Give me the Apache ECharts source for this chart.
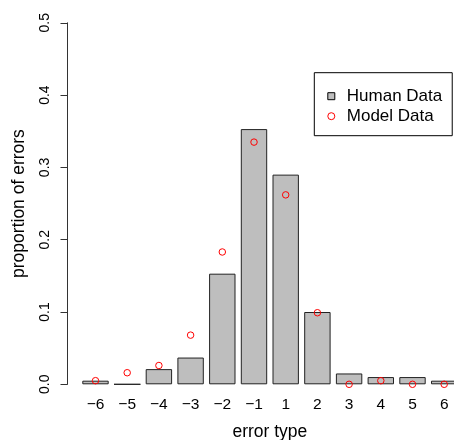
<!DOCTYPE html>
<html>
<head>
<meta charset="utf-8">
<script src="https://cdn.jsdelivr.net/npm/echarts@6/dist/echarts.min.js"></script>
<style>
html,body{margin:0;padding:0;background:#fff;}
#chart{width:454px;height:440px;}
</style>
</head>
<body>
<div id="chart"></div>
<script>
var categories = ['\u22126','\u22125','\u22124','\u22123','\u22122','\u22121','1','2','3','4','5','6'];
var humanData = [0.005, 0.0, 0.021, 0.037, 0.153, 0.353, 0.290, 0.100, 0.015, 0.010, 0.010, 0.005];
var modelData = [0.005, 0.016, 0.026, 0.068, 0.183, 0.335, 0.262, 0.099, 0.000, 0.005, 0.000, 0.000];
var yTicks = [0, 0.1, 0.2, 0.3, 0.4, 0.5];

var FONT = '"Liberation Sans", Arial, Helvetica, sans-serif';
var chart = echarts.init(document.getElementById('chart'), null, {renderer: 'canvas'});
chart.setOption({
  animation: false,
  backgroundColor: '#ffffff',
  textStyle: {fontFamily: FONT, color: '#000'},
  grid: {left: 79.65, top: 22.8, right: -6.05, bottom: 55.7, containLabel: false, outerBoundsMode: 'none'},
  legend: {
    orient: 'vertical',
    left: 314.3,
    top: 72.7,
    padding: [15, 10, 11, 13],
    itemGap: 3,
    itemWidth: 7,
    itemHeight: 7,
    borderColor: '#000',
    borderWidth: 1,
    borderRadius: 0,
    backgroundColor: '#fff',
    textStyle: {fontFamily: FONT, fontSize: 17, color: '#000', padding: [0, 0, 0, 7]},
    data: [
      {name: 'Human Data', icon: 'rect', itemStyle: {color: '#bebebe', borderColor: '#000', borderWidth: 1}},
      {name: 'Model Data', icon: 'circle', itemStyle: {color: 'rgba(0,0,0,0)', borderColor: '#ff0000', borderWidth: 1}}
    ]
  },
  xAxis: {
    type: 'category',
    data: categories,
    axisLine: {show: false},
    axisTick: {show: false},
    axisLabel: {fontFamily: FONT, fontSize: 15.5, color: '#000', margin: 12, interval: 0},
    name: 'error type',
    nameLocation: 'middle',
    nameGap: 39,
    nameTextStyle: {fontFamily: FONT, fontSize: 17.5, color: '#000'}
  },
  yAxis: {
    type: 'value',
    min: 0,
    max: 0.5,
    interval: 0.1,
    offset: 12.15,
    splitLine: {show: false},
    axisLine: {show: true, lineStyle: {color: '#333', width: 1}},
    axisTick: {show: true, length: 7, lineStyle: {color: '#333', width: 1}},
    axisLabel: {
      fontFamily: FONT, fontSize: 14, color: '#000', rotate: 90, margin: 15,
      formatter: function (v) { return v.toFixed(1); }
    },
    name: 'proportion of errors',
    nameLocation: 'middle',
    nameRotate: 90,
    nameGap: 39,
    nameTextStyle: {fontFamily: FONT, fontSize: 17.5, color: '#000'}
  },
  series: [
    {
      name: 'Human Data',
      type: 'bar',
      data: humanData,
      barWidth: 26.4,
      itemStyle: {color: '#bebebe', borderColor: '#222', borderWidth: 1},
      z: 2
    },
    {
      name: 'Model Data',
      type: 'scatter',
      data: modelData,
      symbol: 'circle',
      symbolSize: 6.5,
      itemStyle: {color: 'rgba(0,0,0,0)', borderColor: '#ff0000', borderWidth: 1, opacity: 1},
      z: 3
    }
  ]
});
</script>
</body>
</html>
